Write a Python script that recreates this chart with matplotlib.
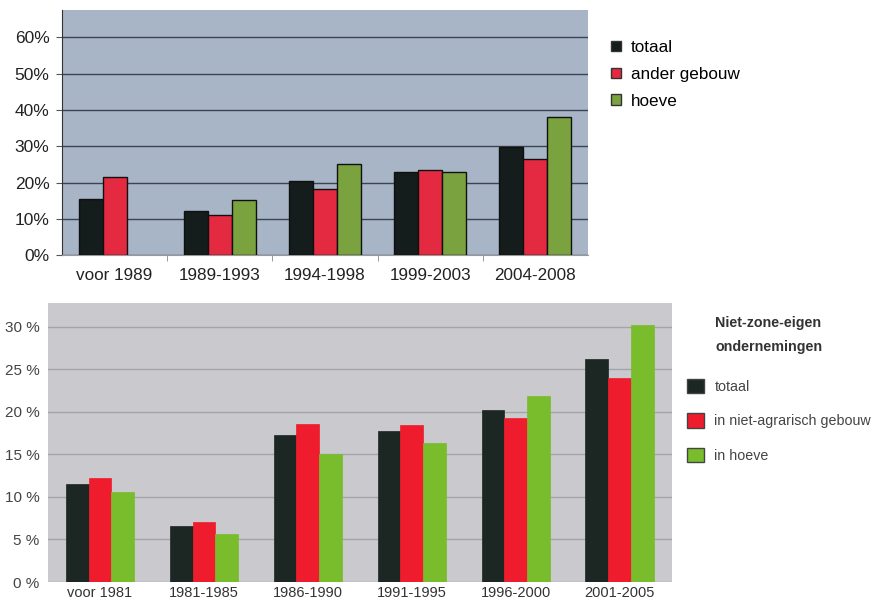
import numpy as np
import matplotlib.pyplot as plt
from matplotlib.patches import Patch

plt.rcParams['font.family'] = ['Liberation Sans', 'DejaVu Sans']

# bovenste grafiek
periods_top = ['voor 1989', '1989-1993', '1994-1998', '1999-2003', '2004-2008']
totaal_top = [15.5, 12.2, 20.3, 22.9, 29.8]
ander_gebouw = [21.6, 11.0, 18.2, 23.5, 26.6]
hoeve_top = [np.nan, 15.2, 25.1, 22.9, 38.0]
labels_top = ['totaal', 'ander gebouw', 'hoeve']

# onderste grafiek
periods_bot = ['voor 1981', '1981-1985', '1986-1990', '1991-1995', '1996-2000', '2001-2005']
totaal_bot = [11.5, 6.6, 17.3, 17.7, 20.2, 26.2]
niet_agrarisch = [12.2, 7.1, 18.6, 18.4, 19.3, 24.0]
hoeve_bot = [10.6, 5.7, 15.1, 16.3, 21.9, 30.2]
labels_bot = ['totaal', 'in niet-agrarisch gebouw', 'in hoeve']
legend_title = 'Niet-zone-eigen\nondernemingen'

fig = plt.figure(figsize=(8.81, 6.03), dpi=100)

# --- boven ---
ax1 = fig.add_axes([0.0704, 0.577, 0.597, 0.406])
cols1 = ['#141c1c', '#e42a40', '#7aa23e']
w = 0.228
x = np.arange(len(periods_top))
for i, (vals, c) in enumerate(zip([totaal_top, ander_gebouw, hoeve_top], cols1)):
    ax1.bar(x + (i - 1) * w, vals, w, color=c, edgecolor='#101010', linewidth=1.0, zorder=3)
ax1.set_facecolor('#a8b5c7')
ax1.set_xlim(-0.5, len(periods_top) - 0.5)
ax1.set_ylim(0, 67.5)
ax1.set_yticks(range(0, 61, 10))
ax1.set_yticklabels([f'{v}%' for v in range(0, 61, 10)], fontsize=12.5, color='#222')
ax1.yaxis.grid(True, color='#3a4452', linewidth=1.0, zorder=1)
ax1.set_xticks(x)
ax1.set_xticklabels(periods_top, fontsize=12.3, color='#222')
ax1.set_xticks(np.arange(0.5, len(periods_top) - 0.5), minor=True)
ax1.tick_params(axis='x', which='major', length=0, pad=9)
ax1.tick_params(axis='x', which='minor', length=4, color='#888')
ax1.tick_params(axis='y', length=4, color='#555', pad=5)
for s in ['top', 'right']:
    ax1.spines[s].set_visible(False)
ax1.spines['left'].set_color('#333')
ax1.spines['bottom'].set_color('#999')
h1 = [Patch(facecolor=c, edgecolor='#333') for c in cols1]
ax1.legend(h1, labels_top, loc='upper left', bbox_to_anchor=(1.015, 0.94), frameon=False,
           fontsize=12.3, handlelength=0.55, handleheight=0.55, handletextpad=0.6, labelspacing=0.68)

# --- onder ---
ax2 = fig.add_axes([0.0545, 0.0348, 0.708, 0.4627])
cols2 = ['#1c2622', '#ee1c2c', '#79bc2c']
w2 = 0.22
x2 = np.arange(len(periods_bot))
for i, (vals, c) in enumerate(zip([totaal_bot, niet_agrarisch, hoeve_bot], cols2)):
    ax2.bar(x2 + (i - 1) * w2, vals, w2, color=c, edgecolor=c, linewidth=0.5, zorder=3)
ax2.set_facecolor('#c9c9ce')
ax2.set_xlim(-0.5, len(periods_bot) - 0.5)
ax2.set_ylim(0, 32.8)
ax2.set_yticks(range(0, 31, 5))
ax2.set_yticklabels([f'{v} %' for v in range(0, 31, 5)], fontsize=11, color='#444')
ax2.yaxis.grid(True, color='#a4a4aa', linewidth=1.0, zorder=1)
ax2.set_xticks(x2)
ax2.set_xticklabels(periods_bot, fontsize=10.5, color='#333')
ax2.tick_params(axis='both', length=0)
ax2.tick_params(axis='x', pad=3)
ax2.tick_params(axis='y', pad=6)
for s in ax2.spines.values():
    s.set_visible(False)
h2 = [Patch(facecolor=c, edgecolor='#444') for c in cols2]
leg = ax2.legend(h2, labels_bot, loc='upper left', bbox_to_anchor=(1.003, 0.775),
                 frameon=False, fontsize=10.3, handlelength=1.2, handleheight=1.2,
                 handletextpad=0.75, labelspacing=1.35)
for t in leg.get_texts():
    t.set_color('#444')
fig.text(715 / 881, 1 - 316 / 603, legend_title, fontsize=10.3, fontweight='bold', color='#333',
         va='top', ha='left', linespacing=1.95)

fig.savefig('out.png', dpi=100)
